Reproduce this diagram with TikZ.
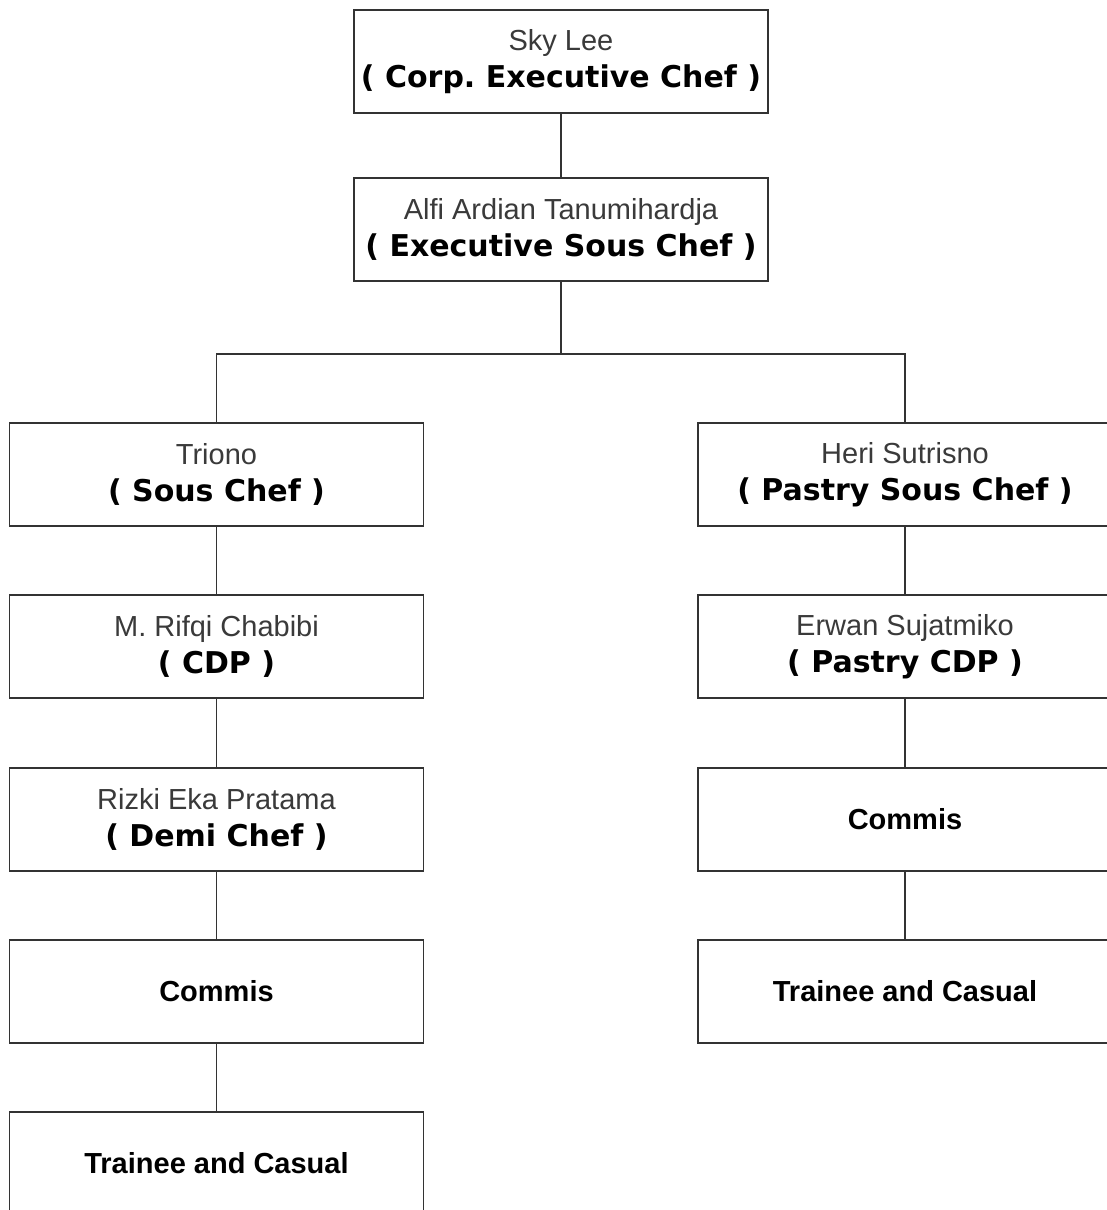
\documentclass[tikz,border=0pt]{standalone}
\usepackage{fontspec}
\setmainfont{Liberation Sans}
\newfontfamily\rolefont{DejaVu Sans}
\definecolor{linegray}{HTML}{333333}
\definecolor{namegray}{HTML}{3A3A3A}
\newcommand{\nm}[1]{{\color{namegray}#1}}
\newcommand{\rl}[1]{{\rolefont\bfseries\fontsize{30}{37}\selectfont #1}}
\frenchspacing
\begin{document}
\begin{tikzpicture}[x=1pt,y=-1pt,
  box/.style={draw=linegray, line width=1.3pt, fill=white, minimum width=414pt, minimum height=103pt,
    inner sep=0pt, align=center, font=\fontsize{29}{37}\selectfont},
  conn/.style={draw=linegray, line width=1.3pt}]
\useasboundingbox (0,0) rectangle (1107,1210);
\clip (0,0) rectangle (1107,1210);
\fill[white] (0,0) rectangle (1107,1210);
\node[box] (ceo) at (561,61.5) {\nm{Sky Lee}\\\rl{( Corp. Executive Chef )}};
\node[box] (esc) at (561,229.5) {\nm{Alfi Ardian Tanumihardja}\\\rl{( Executive Sous Chef )}};
\coordinate (j) at (561,354);
\node[box] (l1) at (216.5,474.5) {\nm{Triono}\\\rl{( Sous Chef )}};
\node[box] (l2) at (216.5,646.5) {\nm{M. Rifqi Chabibi}\\\rl{( CDP )}};
\node[box] (l3) at (216.5,819.5) {\nm{Rizki Eka Pratama}\\\rl{( Demi Chef )}};
\node[box] (l4) at (216.5,991.5) {\textbf{Commis}};
\node[box] (l5) at (216.5,1163.5) {\textbf{Trainee and Casual}};
\node[box] (r1) at (905,474.5) {\nm{Heri Sutrisno}\\\rl{( Pastry Sous Chef )}};
\node[box] (r2) at (905,646.5) {\nm{Erwan Sujatmiko}\\\rl{( Pastry CDP )}};
\node[box] (r3) at (905,819.5) {\textbf{Commis}};
\node[box] (r4) at (905,991.5) {\textbf{Trainee and Casual}};
\draw[conn] (ceo) -- (esc);
\draw[conn] (esc) -- (j);
\draw[conn] (j) -| (l1.north);
\draw[conn] (j) -| (r1.north);
\draw[conn] (l1) -- (l2);
\draw[conn] (l2) -- (l3);
\draw[conn] (l3) -- (l4);
\draw[conn] (l4) -- (l5);
\draw[conn] (r1) -- (r2);
\draw[conn] (r2) -- (r3);
\draw[conn] (r3) -- (r4);
\end{tikzpicture}
\end{document}
